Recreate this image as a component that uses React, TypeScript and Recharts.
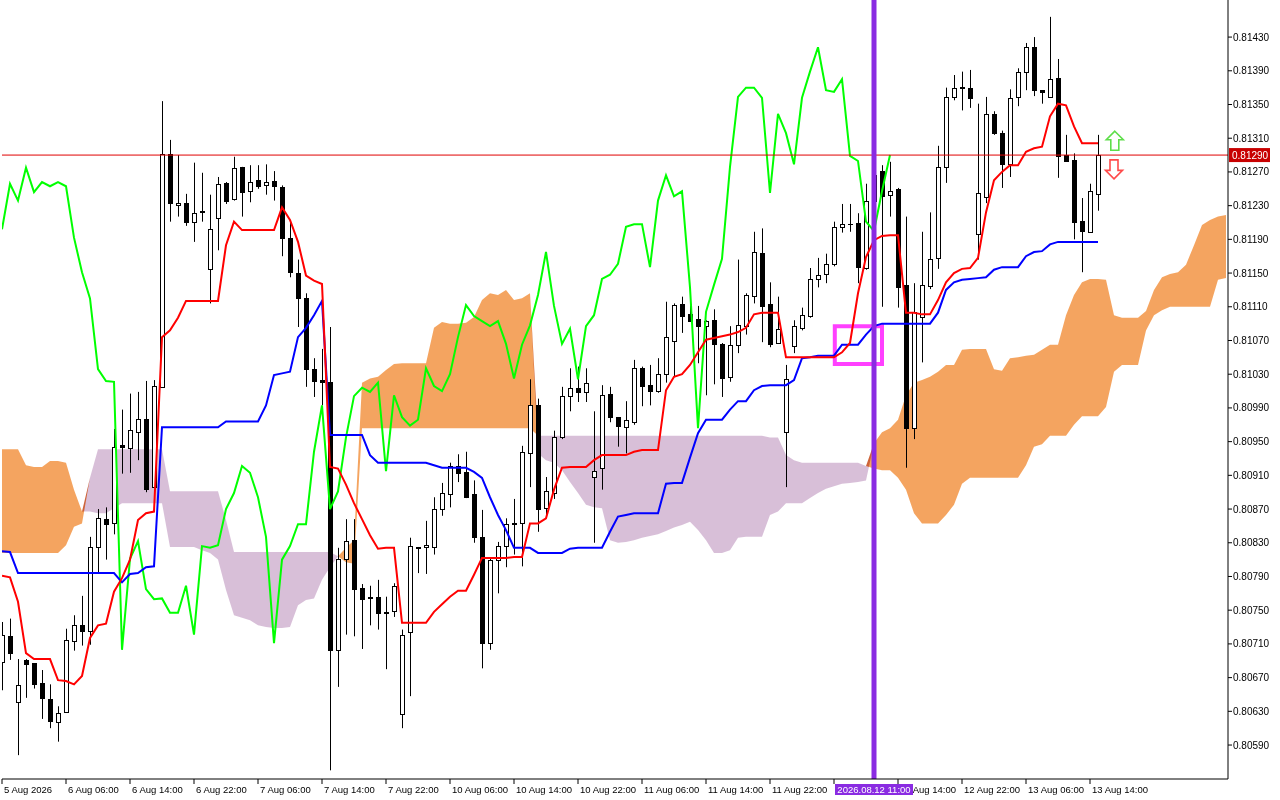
import React from 'react';
import {
  ComposedChart,
  Bar,
  Line,
  Area,
  XAxis,
  YAxis,
  CartesianGrid,
  ReferenceLine,
  ReferenceArea,
  ReferenceDot,
} from 'recharts';

// EURUSD-like H1 bars, 5 Aug 22:00 .. 13 Aug 15:00
const opens = [
  0.80689, 0.80719, 0.80641, 0.80691, 0.80687, 0.80664, 0.80645, 0.80617, 0.80629, 0.80713,
  0.80732, 0.80725, 0.80825, 0.80858, 0.80853, 0.80946, 0.80942, 0.80961, 0.80977, 0.80896,
  0.81015, 0.81291, 0.81231, 0.81233, 0.81211, 0.81224, 0.81155, 0.81215, 0.81257, 0.81238,
  0.81276, 0.81247, 0.8126, 0.81254, 0.81259, 0.81252, 0.81192, 0.8115, 0.8112, 0.81036,
  0.81023, 0.81021, 0.80703, 0.80811, 0.80833, 0.80776, 0.80766, 0.80766, 0.80748, 0.80749,
  0.80627, 0.80724, 0.80825, 0.80825, 0.80825, 0.8087, 0.80888, 0.80921, 0.80914, 0.80888,
  0.80837, 0.80711, 0.8081, 0.80826, 0.80853, 0.80853, 0.80936, 0.80993, 0.80871, 0.80889,
  0.80955, 0.81004, 0.81014, 0.81009, 0.80908, 0.80919, 0.81007, 0.80979, 0.80967, 0.80973,
  0.81037, 0.81017, 0.8101, 0.8103, 0.81069, 0.81113, 0.81101, 0.81095, 0.81087, 0.81094,
  0.81066, 0.81027, 0.81065, 0.81087, 0.81123, 0.81174, 0.81113, 0.81067, 0.80961, 0.81063,
  0.81085, 0.81099, 0.81143, 0.81149, 0.81161, 0.81205, 0.81208, 0.81209, 0.81156, 0.81236,
  0.81271, 0.81243, 0.8125, 0.81136, 0.80966, 0.81098, 0.81135, 0.81168, 0.81276, 0.81359,
  0.81371, 0.8137, 0.81196, 0.8124, 0.81339, 0.81316, 0.81279, 0.81359, 0.81389, 0.81418,
  0.81367, 0.81359, 0.81381, 0.8129, 0.81284, 0.81212, 0.81199, 0.81244,
];
const highs = [
  0.80736, 0.8074, 0.80692, 0.80692, 0.80687, 0.80679, 0.80662, 0.80636, 0.80728, 0.80744,
  0.80767, 0.80837, 0.8087, 0.80872, 0.80965, 0.80988, 0.81007, 0.81009, 0.81022, 0.81023,
  0.81354, 0.81308, 0.8129, 0.81244, 0.81281, 0.81269, 0.81243, 0.81264, 0.81258, 0.81288,
  0.81276, 0.81278, 0.81278, 0.81279, 0.81271, 0.81254, 0.81211, 0.81166, 0.81126, 0.81049,
  0.8106, 0.81086, 0.80824, 0.80858, 0.80858, 0.80781, 0.80779, 0.80786, 0.80766, 0.80782,
  0.80727, 0.80836, 0.80825, 0.80856, 0.80884, 0.80901, 0.80925, 0.80935, 0.80938, 0.80904,
  0.80869, 0.80811, 0.80831, 0.80859, 0.80882, 0.80945, 0.81024, 0.81001, 0.80908, 0.80963,
  0.81015, 0.81037, 0.81039, 0.81037, 0.80986, 0.81017, 0.81015, 0.80979, 0.80998, 0.81047,
  0.81039, 0.81041, 0.81049, 0.81116, 0.81114, 0.81122, 0.81113, 0.81111, 0.81094, 0.81107,
  0.81067, 0.81087, 0.81166, 0.81126, 0.81199, 0.81203, 0.81139, 0.81122, 0.81041, 0.81094,
  0.81109, 0.81156, 0.81168, 0.81173, 0.81211, 0.81232, 0.81232, 0.81221, 0.81256, 0.81278,
  0.81278, 0.81282, 0.81251, 0.81217, 0.81138, 0.81199, 0.81222, 0.81301, 0.8137, 0.81385,
  0.81389, 0.81391, 0.81351, 0.81359, 0.81342, 0.81319, 0.81368, 0.81393, 0.81423, 0.8143,
  0.81367, 0.81454, 0.81404, 0.81314, 0.81292, 0.81239, 0.81256, 0.81314,
];
const lows = [
  0.80655, 0.80691, 0.80578, 0.80646, 0.80657, 0.80621, 0.8061, 0.80594, 0.80628, 0.80702,
  0.80708, 0.80709, 0.80795, 0.8081, 0.8084, 0.80912, 0.80913, 0.80928, 0.8089, 0.80895,
  0.81014, 0.81211, 0.81217, 0.81206, 0.81187, 0.81211, 0.81114, 0.81177, 0.81232, 0.81236,
  0.81217, 0.81234, 0.8125, 0.81243, 0.81236, 0.8117, 0.81145, 0.81086, 0.81015, 0.81003,
  0.80993, 0.8056, 0.80659, 0.80721, 0.80719, 0.80704, 0.80732, 0.80727, 0.8068, 0.80742,
  0.8061, 0.80648, 0.80794, 0.80793, 0.80816, 0.80862, 0.80872, 0.80902, 0.80883, 0.8083,
  0.80681, 0.80703, 0.8077, 0.80801, 0.80816, 0.80802, 0.80896, 0.80843, 0.80862, 0.80882,
  0.80953, 0.80986, 0.80997, 0.80997, 0.8083, 0.80893, 0.80973, 0.80944, 0.80936, 0.8097,
  0.80992, 0.80993, 0.81008, 0.8102, 0.81027, 0.81079, 0.81092, 0.81043, 0.81005, 0.81018,
  0.81003, 0.81021, 0.81055, 0.81077, 0.81114, 0.81068, 0.81062, 0.81066, 0.80896, 0.81055,
  0.81082, 0.81097, 0.81133, 0.81138, 0.81158, 0.81198, 0.81199, 0.81138, 0.81154, 0.81219,
  0.8111, 0.81217, 0.81109, 0.80919, 0.80953, 0.81044, 0.81131, 0.81155, 0.81257, 0.81355,
  0.81343, 0.81346, 0.81166, 0.81233, 0.81314, 0.81251, 0.81264, 0.81348, 0.81367, 0.8136,
  0.81351, 0.81359, 0.81263, 0.81283, 0.8119, 0.81151, 0.81199, 0.81224,
];
const closes = [
  0.80721, 0.80699, 0.80661, 0.80686, 0.80662, 0.80646, 0.80619, 0.80628, 0.80715, 0.80732,
  0.80725, 0.80825, 0.80859, 0.80852, 0.80944, 0.80944, 0.80964, 0.80977, 0.80894, 0.81016,
  0.81291, 0.81233, 0.81233, 0.81211, 0.81221, 0.81222, 0.81202, 0.81256, 0.81236, 0.81275,
  0.81246, 0.81258, 0.81253, 0.81258, 0.81253, 0.81192, 0.81151, 0.8112, 0.81036, 0.81022,
  0.81021, 0.80703, 0.80811, 0.80832, 0.80775, 0.80763, 0.80764, 0.80747, 0.80747, 0.80779,
  0.80721, 0.80826, 0.80824, 0.80827, 0.8087, 0.80889, 0.80921, 0.80913, 0.80884, 0.80837,
  0.80711, 0.8081, 0.80826, 0.80852, 0.80852, 0.80938, 0.80993, 0.8087, 0.80891, 0.80955,
  0.81004, 0.81014, 0.81009, 0.8102, 0.80915, 0.81005, 0.80979, 0.80969, 0.80976, 0.81037,
  0.81016, 0.8101, 0.8103, 0.81074, 0.81112, 0.81099, 0.81093, 0.81087, 0.81093, 0.81066,
  0.81025, 0.81065, 0.81088, 0.81124, 0.81175, 0.81111, 0.81066, 0.81084, 0.81024, 0.81087,
  0.811, 0.81143, 0.81148, 0.81161, 0.81205, 0.81208, 0.81208, 0.81157, 0.81236, 0.81266,
  0.81241, 0.81247, 0.81133, 0.80966, 0.81104, 0.81136, 0.81167, 0.81276, 0.81359, 0.8137,
  0.8137, 0.81358, 0.81245, 0.81339, 0.81316, 0.81279, 0.81358, 0.81389, 0.81418, 0.81367,
  0.81365, 0.8138, 0.81289, 0.81283, 0.81211, 0.812, 0.81247, 0.8129,
];

// Ichimoku lines as drawn on the chart
const tenkan = [
  0.80791, 0.80789, 0.8076, 0.80699, 0.80692, 0.80692, 0.80692, 0.80667, 0.80666, 0.80662,
  0.80672, 0.80717, 0.80732, 0.80734, 0.80772, 0.80788, 0.8081, 0.80857, 0.80865, 0.80867,
  0.81074, 0.81082, 0.81097, 0.81117, 0.81117, 0.81117, 0.81117, 0.81117, 0.81183, 0.81211,
  0.81201, 0.81201, 0.81201, 0.81201, 0.81201, 0.81228, 0.81213, 0.81187, 0.81147, 0.81141,
  0.81137, 0.8092, 0.80918, 0.80899, 0.80877, 0.80858, 0.80839, 0.80823, 0.80824, 0.80824,
  0.80735, 0.80735, 0.80735, 0.80735, 0.80748, 0.80757, 0.80766, 0.80773, 0.80773, 0.80792,
  0.80812, 0.80812, 0.80812, 0.80812, 0.80813, 0.80813, 0.80853, 0.80853, 0.80859, 0.80893,
  0.80919, 0.8092, 0.8092, 0.8092, 0.80928, 0.80934, 0.80934, 0.80934, 0.80934, 0.80938,
  0.8094, 0.8094, 0.8094, 0.81011, 0.81027, 0.8103, 0.81041, 0.81056, 0.81071, 0.81073,
  0.81075, 0.81077, 0.8108, 0.81085, 0.81101, 0.81103, 0.81103, 0.81103, 0.8105, 0.8105,
  0.8105, 0.8105, 0.8105, 0.8105, 0.8105, 0.81056, 0.81067, 0.81126, 0.81169, 0.81189,
  0.81194, 0.81195, 0.81195, 0.81103, 0.81103, 0.81101, 0.81101, 0.81118, 0.81139, 0.8115,
  0.81155, 0.81156, 0.81168, 0.81222, 0.8126, 0.8127, 0.81278, 0.81278, 0.81294, 0.81298,
  0.813, 0.81336, 0.81351, 0.81349, 0.81324, 0.81304, 0.81304, 0.81304,
];
const kijun = [
  0.8082, 0.80819, 0.80794, 0.80794, 0.80794, 0.80794, 0.80794, 0.80794, 0.80794, 0.80794,
  0.80794, 0.80794, 0.80794, 0.80794, 0.80794, 0.80783, 0.80793, 0.80794, 0.80801, 0.80802,
  0.80967, 0.80967, 0.80967, 0.80967, 0.80967, 0.80967, 0.80967, 0.80967, 0.80974, 0.80974,
  0.80974, 0.80974, 0.80974, 0.80993, 0.81029, 0.81031, 0.81033, 0.81074, 0.81085, 0.811,
  0.81117, 0.80958, 0.80958, 0.80958, 0.80958, 0.80958, 0.80934, 0.80925, 0.80925, 0.80925,
  0.80925, 0.80925, 0.80925, 0.80925, 0.80922, 0.80919, 0.80919, 0.80919, 0.80919, 0.80914,
  0.80907, 0.80884, 0.80863, 0.80845, 0.80824, 0.80824, 0.80824, 0.80818, 0.80818, 0.80818,
  0.80818, 0.80823, 0.80824, 0.80824, 0.80824, 0.80824, 0.80843, 0.80861, 0.80863, 0.80865,
  0.80865, 0.80865, 0.80865, 0.809, 0.80901, 0.80901, 0.80931, 0.8096, 0.80976, 0.80976,
  0.80976, 0.80988, 0.80998, 0.80998, 0.81011, 0.81016, 0.81017, 0.81017, 0.81017, 0.81023,
  0.81049, 0.8105, 0.81052, 0.81052, 0.81052, 0.81065, 0.81065, 0.81065, 0.81077, 0.81087,
  0.8109, 0.8109, 0.8109, 0.8109, 0.8109, 0.8109, 0.8109, 0.81103, 0.8113, 0.81139,
  0.81142, 0.81143, 0.81144, 0.81145, 0.81154, 0.81157, 0.81157, 0.81157, 0.8117, 0.81175,
  0.81176, 0.81184, 0.81187, 0.81187, 0.81187, 0.81187, 0.81187, 0.81187,
];
// Senkou spans, already shifted 26 bars ahead
const spanA = [
  0.80941, 0.80941, 0.80941, 0.80922, 0.8092, 0.8092, 0.80927, 0.80927, 0.80925, 0.80893,
  0.80867, 0.80867, 0.80865, 0.80865, 0.80871, 0.80877, 0.80877, 0.80877, 0.80877, 0.80877,
  0.80877, 0.80825, 0.80825, 0.80825, 0.80825, 0.80821, 0.80818, 0.8081, 0.80774, 0.80744,
  0.80741, 0.80738, 0.80732, 0.8073, 0.80729, 0.80729, 0.8073, 0.80756, 0.80762, 0.80764,
  0.80786, 0.80801, 0.80814, 0.80824, 0.80833, 0.8102, 0.81025, 0.81027, 0.81035, 0.81042,
  0.81043, 0.81043, 0.81043, 0.81043, 0.81085, 0.81092, 0.8109, 0.8109, 0.81091, 0.81098,
  0.81118, 0.81126, 0.81124, 0.8113, 0.81118, 0.8112, 0.81126, 0.80936, 0.80928, 0.80925,
  0.80916, 0.80902, 0.80889, 0.80875, 0.80872, 0.80871, 0.80833, 0.8083, 0.80831, 0.80833,
  0.80836, 0.80838, 0.8084, 0.80844, 0.80848, 0.80851, 0.80855, 0.80845, 0.80833, 0.80818,
  0.80818, 0.80821, 0.80836, 0.80837, 0.80837, 0.80837, 0.80863, 0.80867, 0.80877, 0.80877,
  0.80877, 0.80883, 0.80889, 0.80894, 0.80897, 0.809, 0.80901, 0.80902, 0.80904, 0.80948,
  0.80961, 0.80966, 0.80976, 0.81005, 0.8102, 0.81023, 0.81027, 0.81033, 0.81041, 0.81041,
  0.81059, 0.8106, 0.8106, 0.8106, 0.81036, 0.81034, 0.81049, 0.8105, 0.81052, 0.81053,
  0.81059, 0.81065, 0.81065, 0.811, 0.81124, 0.81139, 0.81143, 0.81143, 0.81142, 0.811,
  0.81097, 0.81097, 0.81097, 0.81105, 0.8113, 0.81145, 0.81149, 0.81151, 0.8116, 0.81183,
  0.81207, 0.81213, 0.81217, 0.81219,
];
const spanB = [
  0.80818, 0.80818, 0.80818, 0.80818, 0.80818, 0.80818, 0.80818, 0.80818, 0.80827, 0.80849,
  0.80853, 0.80907, 0.80941, 0.80941, 0.80941, 0.80941, 0.80941, 0.80941, 0.80941, 0.80941,
  0.80941, 0.80891, 0.80891, 0.80891, 0.80891, 0.80891, 0.80891, 0.80891, 0.80857, 0.80819,
  0.80819, 0.80819, 0.80819, 0.80819, 0.80819, 0.80819, 0.80819, 0.80819, 0.80819, 0.80819,
  0.80819, 0.80819, 0.80814, 0.80807, 0.80805, 0.80966, 0.80966, 0.80966, 0.80966, 0.80966,
  0.80966, 0.80966, 0.80966, 0.80966, 0.80966, 0.80966, 0.80966, 0.80966, 0.80966, 0.80966,
  0.80966, 0.80966, 0.80966, 0.80966, 0.80966, 0.80966, 0.80966, 0.80957, 0.80957, 0.80957,
  0.80957, 0.80957, 0.80957, 0.80957, 0.80957, 0.80957, 0.80957, 0.80957, 0.80957, 0.80957,
  0.80957, 0.80957, 0.80957, 0.80957, 0.80957, 0.80957, 0.80957, 0.80957, 0.80957, 0.80957,
  0.80957, 0.80957, 0.80957, 0.80957, 0.80957, 0.80957, 0.80955, 0.80955, 0.80934, 0.80928,
  0.80925, 0.80925, 0.80925, 0.80925, 0.80925, 0.80925, 0.80925, 0.80925, 0.80921, 0.80918,
  0.80916, 0.80916, 0.80907, 0.80893, 0.80865, 0.80853, 0.80853, 0.80853, 0.80863, 0.80875,
  0.809, 0.80907, 0.80907, 0.80907, 0.80907, 0.80907, 0.80907, 0.80907, 0.80922, 0.80944,
  0.80947, 0.80957, 0.80957, 0.80957, 0.8097, 0.8098, 0.8098, 0.8098, 0.80991, 0.81033,
  0.81041, 0.81041, 0.81041, 0.81082, 0.811, 0.81106, 0.8111, 0.8111, 0.8111, 0.8111,
  0.8111, 0.8111, 0.81142, 0.81144,
];

const xTicks = [0, 8, 16, 24, 32, 40, 48, 56, 64, 72, 80, 88, 96, 104, 112, 120, 128, 136];
const xLabels = [
  '5 Aug 2026', '6 Aug 06:00', '6 Aug 14:00', '6 Aug 22:00', '7 Aug 06:00', '7 Aug 14:00',
  '7 Aug 22:00', '10 Aug 06:00', '10 Aug 14:00', '10 Aug 22:00', '11 Aug 06:00', '11 Aug 14:00',
  '11 Aug 22:00', '12 Aug 06:00', '12 Aug 14:00', '12 Aug 22:00', '13 Aug 06:00', '13 Aug 14:00',
];
const yTicks = [
  0.8143, 0.8139, 0.8135, 0.8131, 0.8127, 0.8123, 0.8119, 0.8115, 0.8111, 0.8107, 0.8103,
  0.8099, 0.8095, 0.8091, 0.8087, 0.8083, 0.8079, 0.8075, 0.8071, 0.8067, 0.8063, 0.8059,
];

const lastPrice = 0.8129;
const markerBar = 109;
const markerLabel = '2026.08.12 11:00';
const boxX = [104.1, 110];
const boxY = [0.81042, 0.81087];
const upArrow = { x: 139.1, y: 0.81307 };
const downArrow = { x: 139, y: 0.81273 };

const Y_MIN = 0.805497;
const Y_MAX = 0.81474;
const X_MAX = 153.25;

const rows = spanA.map((a, i) => {
  const b = spanB[i];
  const has = i < closes.length;
  return {
    i,
    o: has ? opens[i] : undefined,
    h: has ? highs[i] : undefined,
    l: has ? lows[i] : undefined,
    c: has ? closes[i] : undefined,
    range: has ? [lows[i], highs[i]] : undefined,
    tenkan: has ? tenkan[i] : undefined,
    kijun: has ? kijun[i] : undefined,
    chikou: i + 26 < closes.length ? closes[i + 26] : undefined,
    up: [b, Math.max(a, b)],
    down: [a, Math.max(a, b)],
  };
});

const Candle = (props: any) => {
  const { x, y, width, height, payload } = props;
  if (payload == null || payload.o == null) return null;
  const { o, h, l, c } = payload;
  const span = h - l || 1e-9;
  const py = (p: number) => y + ((h - p) / span) * height;
  const cx = Math.round(x + width / 2);
  const top = Math.round(py(Math.max(o, c)));
  const bot = Math.round(py(Math.min(o, c)));
  const bull = c >= o;
  return (
    <g>
      <line x1={cx + 0.5} x2={cx + 0.5} y1={y} y2={y + height} stroke="#000" strokeWidth={1} />
      {bot - top < 1 ? (
        <line x1={cx - 2} x2={cx + 3} y1={top + 0.5} y2={top + 0.5} stroke="#000" />
      ) : bull ? (
        <rect x={cx - 1.5} y={top + 0.5} width={4} height={bot - top} fill="#fff" stroke="#000" strokeWidth={1} />
      ) : (
        <rect x={cx - 2} y={top} width={5} height={bot - top + 1} fill="#000" />
      )}
    </g>
  );
};

const XTick = (props: any) => {
  const { x, y, payload } = props;
  const k = xTicks.indexOf(payload.value);
  // the label right before the marker sits fully under the time tag
  if (payload.value < markerBar && payload.value > markerBar - 8) return null;
  return (
    <text x={x + 2} y={y + 7} fontSize={9.5} fill="#000" textAnchor="start">
      {xLabels[k]}
    </text>
  );
};

const YTick = (props: any) => {
  const { x, y, payload } = props;
  return (
    <text x={x} y={y + 3.5} fontSize={10} fill="#000" textAnchor="start">
      {Number(payload.value).toFixed(5)}
    </text>
  );
};

const PriceTag = (props: any) => {
  const vb = props.viewBox;
  if (!vb) return null;
  const x0 = vb.x + vb.width + 1;
  return (
    <g>
      <rect x={x0} y={vb.y - 7} width={41} height={14} fill="#c80000" />
      <text x={x0 + 3} y={vb.y + 4} fontSize={10} fill="#fff">
        {lastPrice.toFixed(5)}
      </text>
    </g>
  );
};

// time tag drawn by its own axis so it paints over the regular time labels
const TagTick = (props: any) => {
  const { x, y } = props;
  return (
    <g>
      <rect x={x - 39} y={y - 15} width={78} height={11} fill="#8a2be2" />
      <text x={x} y={y - 6} fontSize={9.5} fill="#fff" textAnchor="middle">
        {markerLabel}
      </text>
    </g>
  );
};

const ArrowShape = ({ cx, cy, dir, color }: any) => {
  if (cx == null) return null;
  const s = dir === 'up' ? 1 : -1;
  const pts = [
    [0, -9.5], [8.5, -1], [4, -1], [4, 9.5], [-4, 9.5], [-4, -1], [-8.5, -1],
  ]
    .map(([dx, dy]) => `${cx + dx},${cy + s * dy}`)
    .join(' ');
  return <polygon points={pts} fill="#fff" stroke={color} strokeWidth={1.6} />;
};

export default function App() {
  return (
    <div
      style={{
        position: 'absolute',
        left: 0,
        top: 0,
        width: 1280,
        height: 800,
        background: '#fff',
        isolation: 'isolate',
        fontFamily: '"Liberation Sans", Arial, sans-serif',
      }}
    >
      <style>{`.cloud { mix-blend-mode: difference; }`}</style>
      <ComposedChart
        width={1280}
        height={800}
        data={rows}
        margin={{ top: 0, right: 0, bottom: 0, left: 2 }}
      >
        <CartesianGrid horizontal={false} vertical={false} fill="#fff" stroke="none" />
        <XAxis
          dataKey="i"
          type="number"
          domain={[0, X_MAX]}
          allowDataOverflow
          ticks={xTicks}
          interval={0}
          height={20}
          tickSize={5}
          tick={<XTick />}
          axisLine={{ stroke: '#000' }}
          tickLine={{ stroke: '#000' }}
        />
        <YAxis
          orientation="right"
          domain={[Y_MIN, Y_MAX]}
          allowDataOverflow
          ticks={yTicks}
          interval={0}
          width={52}
          tickSize={4}
          tickMargin={1}
          tick={<YTick />}
          axisLine={{ stroke: '#000' }}
          tickLine={{ stroke: '#000' }}
        />
        <YAxis
          yAxisId="frame"
          orientation="left"
          width={0}
          tick={false}
          tickLine={false}
          axisLine={{ stroke: '#000' }}
        />
        <Bar dataKey="range" barSize={5} shape={<Candle />} isAnimationActive={false} />
        <Area
          className="cloud"
          dataKey="up"
          type="linear"
          stroke="none"
          fill="#0b5b9f"
          fillOpacity={1}
          dot={false}
          activeDot={false}
          isAnimationActive={false}
        />
        <Area
          className="cloud"
          dataKey="down"
          type="linear"
          stroke="none"
          fill="#274027"
          fillOpacity={1}
          dot={false}
          activeDot={false}
          isAnimationActive={false}
        />
        <Line dataKey="chikou" type="linear" stroke="#00ff00" strokeWidth={2} dot={false} activeDot={false} isAnimationActive={false} />
        <Line dataKey="kijun" type="linear" stroke="#0000ff" strokeWidth={2} dot={false} activeDot={false} isAnimationActive={false} />
        <Line dataKey="tenkan" type="linear" stroke="#ff0000" strokeWidth={2} dot={false} activeDot={false} isAnimationActive={false} />
        <ReferenceLine y={lastPrice} stroke="#e00000" strokeWidth={1} label={<PriceTag />} />
        <ReferenceArea
          x1={boxX[0]}
          x2={boxX[1]}
          y1={boxY[0]}
          y2={boxY[1]}
          fill="none"
          fillOpacity={0}
          stroke="#ff40ff"
          strokeWidth={4}
        />
        <ReferenceLine x={markerBar} stroke="#8a2be2" strokeWidth={5} />
        <ReferenceDot
          x={upArrow.x}
          y={upArrow.y}
          r={9}
          shape={(p: any) => <ArrowShape {...p} dir="up" color="#5ede4a" />}
        />
        <ReferenceDot
          x={downArrow.x}
          y={downArrow.y}
          r={9}
          shape={(p: any) => <ArrowShape {...p} dir="down" color="#ff4a4a" />}
        />
        <XAxis
          xAxisId="tag"
          dataKey="i"
          type="number"
          domain={[0, X_MAX]}
          allowDataOverflow
          ticks={[markerBar]}
          interval={0}
          height={1}
          tickSize={0}
          tickMargin={0}
          tick={TagTick}
          axisLine={false}
          tickLine={false}
        />
      </ComposedChart>
    </div>
  );
}
